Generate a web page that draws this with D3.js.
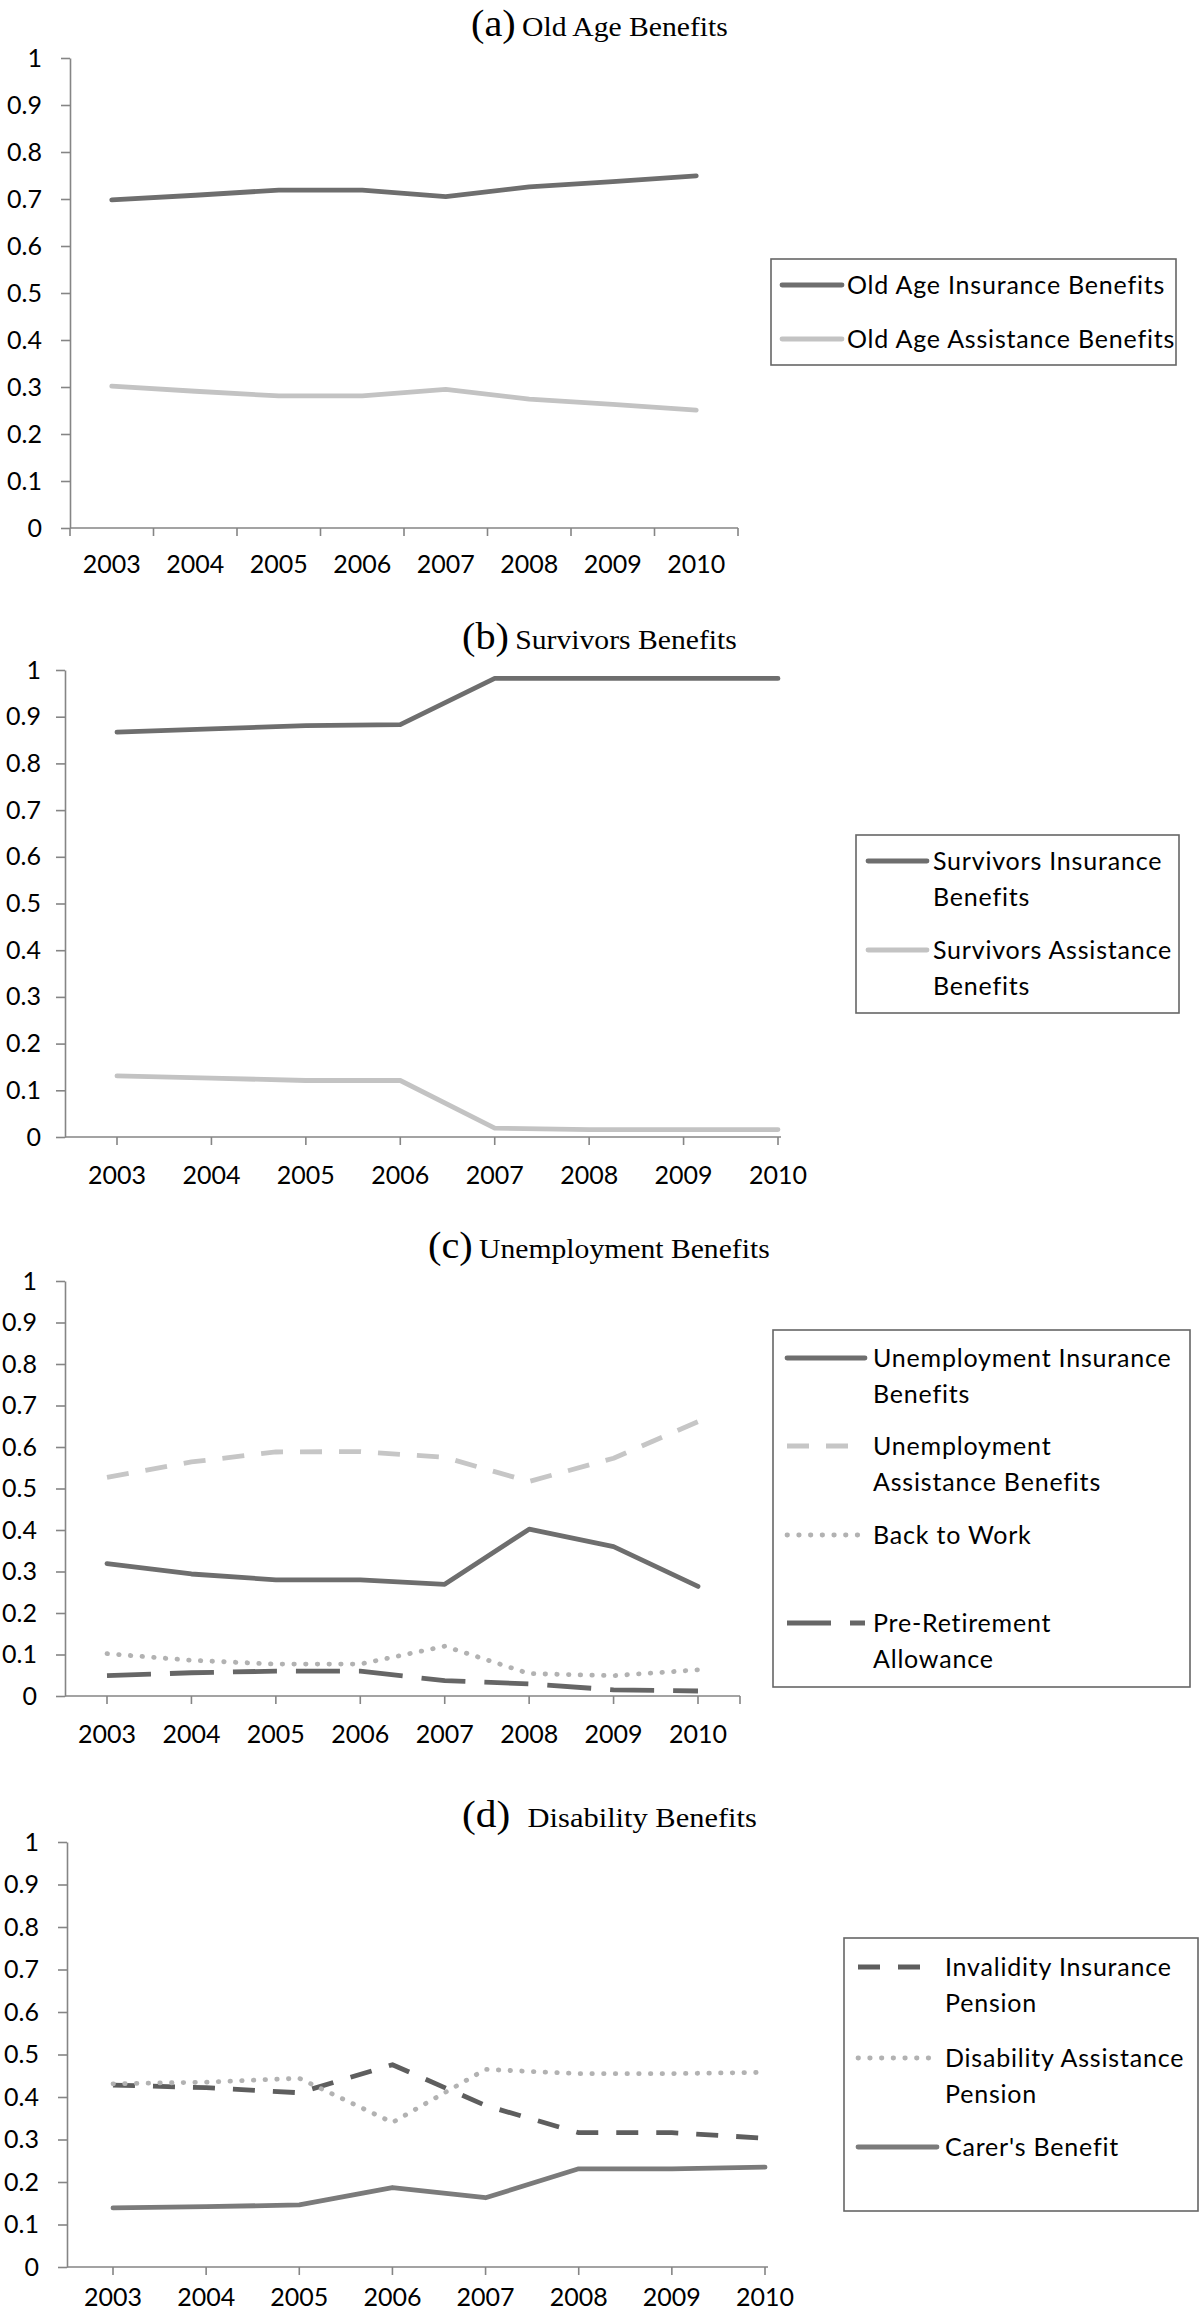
<!DOCTYPE html>
<html>
<head>
<meta charset="utf-8">
<script src="https://cdn.jsdelivr.net/npm/d3@7"></script>
<style>
  html, body { margin: 0; padding: 0; background: #fff; }
  svg { display: block; }
</style>
</head>
<body>
<script>
// ---------------- DATA ----------------
const years = ["2003", "2004", "2005", "2006", "2007", "2008", "2009", "2010"];
const yTicks = [0, 0.1, 0.2, 0.3, 0.4, 0.5, 0.6, 0.7, 0.8, 0.9, 1];

// (a) Old Age Benefits
const oldAgeInsurance  = [0.698, 0.708, 0.719, 0.719, 0.705, 0.726, 0.737, 0.749];
const oldAgeAssistance = [0.302, 0.291, 0.281, 0.281, 0.295, 0.274, 0.263, 0.251];

// (b) Survivors Benefits
const survivorsInsurance  = [0.867, 0.874, 0.881, 0.883, 0.982, 0.982, 0.982, 0.982];
const survivorsAssistance = [0.131, 0.126, 0.121, 0.121, 0.019, 0.016, 0.016, 0.016];

// (c) Unemployment Benefits
const unempInsurance  = [0.319, 0.294, 0.280, 0.280, 0.269, 0.402, 0.360, 0.264];
const unempAssistance = [0.527, 0.564, 0.588, 0.589, 0.575, 0.517, 0.573, 0.661];
const backToWork      = [0.102, 0.086, 0.077, 0.077, 0.120, 0.054, 0.049, 0.063];
const preRetirement   = [0.049, 0.056, 0.060, 0.060, 0.037, 0.029, 0.015, 0.012];

// (d) Disability Benefits
const invalidityInsurance  = [0.428, 0.422, 0.410, 0.476, 0.380, 0.316, 0.316, 0.303];
const disabilityAssistance = [0.431, 0.435, 0.444, 0.340, 0.465, 0.455, 0.455, 0.458];
const carersBenefit        = [0.139, 0.142, 0.146, 0.187, 0.163, 0.231, 0.231, 0.235];

// Titles and legend labels
const panelLetters = ["(a)", "(b)", "(c)", "(d)"];
const panelTitles  = ["Old Age Benefits", "Survivors Benefits", "Unemployment Benefits", "Disability Benefits"];
const legendA = [["Old Age Insurance Benefits"], ["Old Age Assistance Benefits"]];
const legendB = [["Survivors Insurance", "Benefits"], ["Survivors Assistance", "Benefits"]];
const legendC = [["Unemployment Insurance", "Benefits"], ["Unemployment", "Assistance Benefits"], ["Back to Work"], ["Pre-Retirement", "Allowance"]];
const legendD = [["Invalidity Insurance", "Pension"], ["Disability Assistance", "Pension"], ["Carer's Benefit"]];

// ---------------- STYLES ----------------
const DARK = "#6e6e6e", LIGHT = "#c3c3c3";
const STYLE_SOLID_DARK  = { color: DARK, dash: null, cap: "round" };
const STYLE_SOLID_LIGHT = { color: LIGHT, dash: null, cap: "round" };
const STYLE_DASH_LIGHT  = { color: "#c6c6c6", dash: "22,17", cap: "butt" };
const STYLE_DOT_LIGHT   = { color: "#b2b2b2", dash: "0.5,11.2", cap: "round" };
const STYLE_LONGDASH_DARK = { color: "#666666", dash: "44,19", cap: "butt" };
const STYLE_DASH_DARK   = { color: "#5e5e5e", dash: "22,18", cap: "butt" };
const STYLE_SOLID_MED   = { color: "#7b7b7b", dash: null, cap: "round" };

const LINE_W = 4.8;
const TICK_FONT = "Lato, 'Open Sans', sans-serif";
const TITLE_FONT = "'Liberation Serif', 'Times New Roman', serif";

// ---------------- LAYOUT ----------------
const panels = [
  {
    letter: panelLetters[0], title: panelTitles[0], titleX: 471, titleY: 36, titleW: 257, gap: 6,
    xMode: "band", xRange: [70, 738], axisSpan: [70, 738], endTick: false,
    yAxisX: 70, yRange: [528, 58], xLabelY: 573, yLabelRight: 42,
    series: [
      { values: oldAgeInsurance, style: STYLE_SOLID_DARK },
      { values: oldAgeAssistance, style: STYLE_SOLID_LIGHT }
    ],
    legend: { x: 771, y: 259, w: 405, h: 106, sx0: 782, sx1: 842, textX: 847,
      rows: [{ y: 285 }, { y: 339 }], labels: legendA }
  },
  {
    letter: panelLetters[1], title: panelTitles[1], titleX: 462, titleY: 649, titleW: 275, gap: 6,
    xMode: "point", xRange: [117, 778], axisSpan: [65, 781], endTick: false,
    yAxisX: 65, yRange: [1137, 670], xLabelY: 1184, yLabelRight: 41,
    series: [
      { values: survivorsInsurance, style: STYLE_SOLID_DARK },
      { values: survivorsAssistance, style: STYLE_SOLID_LIGHT }
    ],
    legend: { x: 856, y: 835, w: 323, h: 178, sx0: 868, sx1: 927, textX: 933,
      rows: [{ y: 861 }, { y: 950 }], labels: legendB }
  },
  {
    letter: panelLetters[2], title: panelTitles[2], titleX: 428, titleY: 1258, titleW: 342, gap: 6,
    xMode: "point", xRange: [107, 698], axisSpan: [65, 740], endTick: true,
    yAxisX: 65, yRange: [1696, 1281], xLabelY: 1743, yLabelRight: 37,
    series: [
      { values: unempInsurance, style: STYLE_SOLID_DARK },
      { values: unempAssistance, style: STYLE_DASH_LIGHT },
      { values: backToWork, style: STYLE_DOT_LIGHT },
      { values: preRetirement, style: STYLE_LONGDASH_DARK }
    ],
    legend: { x: 773, y: 1330, w: 417, h: 357, sx0: 787, sx1: 865, textX: 873,
      rows: [{ y: 1358 }, { y: 1446 }, { y: 1535 }, { y: 1623 }], labels: legendC }
  },
  {
    letter: panelLetters[3], title: panelTitles[3], titleX: 462, titleY: 1827, titleW: 295, gap: 16,
    xMode: "point", xRange: [113, 765], axisSpan: [67, 768], endTick: false,
    yAxisX: 67, yRange: [2267, 1842], xLabelY: 2306, yLabelRight: 39,
    series: [
      { values: invalidityInsurance, style: STYLE_DASH_DARK },
      { values: disabilityAssistance, style: STYLE_DOT_LIGHT },
      { values: carersBenefit, style: STYLE_SOLID_MED }
    ],
    legend: { x: 844, y: 1938, w: 354, h: 273, sx0: 858, sx1: 937, textX: 945,
      rows: [{ y: 1967 }, { y: 2058 }, { y: 2147 }], labels: legendD }
  }
];

// ---------------- DRAW ----------------
const svg = d3.select("body").append("svg")
  .attr("width", 1200).attr("height", 2315)
  .attr("viewBox", "0 0 1200 2315");

const AXIS_COLOR = "#858585";
const TEXT_COLOR = "#000000";

panels.forEach(p => {
  const g = svg.append("g");

  // scales
  let x, xc;
  if (p.xMode === "band") {
    x = d3.scaleBand().domain(years).range(p.xRange).paddingInner(0).paddingOuter(0);
    xc = d => x(d) + x.bandwidth() / 2;
  } else {
    x = d3.scalePoint().domain(years).range(p.xRange);
    xc = d => x(d);
  }
  const y = d3.scaleLinear().domain([0, 1]).range(p.yRange);

  // Y axis
  const yAxis = d3.axisLeft(y).tickValues(yTicks).tickFormat(d3.format("")).tickSize(9).tickSizeOuter(0)
    .tickPadding(p.yAxisX - p.yLabelRight - 9);
  const yG = g.append("g").attr("transform", `translate(${p.yAxisX},0)`).call(yAxis);
  yG.select(".domain").attr("stroke", AXIS_COLOR).attr("stroke-width", 1.6);
  yG.selectAll(".tick line").attr("stroke", AXIS_COLOR).attr("stroke-width", 1.6);
  yG.selectAll(".tick text").attr("fill", TEXT_COLOR)
    .style("font-family", TICK_FONT).style("font-size", "25px");

  // X axis
  const xAxisY = y(0);
  const xG = g.append("g").attr("transform", `translate(0,${xAxisY})`);
  xG.append("line").attr("x1", p.axisSpan[0]).attr("x2", p.axisSpan[1])
    .attr("y1", 0).attr("y2", 0).attr("stroke", AXIS_COLOR).attr("stroke-width", 1.6);

  let tickXs;
  if (p.xMode === "band") {
    tickXs = years.map(d => x(d)).concat([x(years[years.length - 1]) + x.bandwidth()]);
  } else {
    tickXs = years.map(d => x(d));
    if (p.endTick) tickXs = tickXs.concat([p.axisSpan[1]]);
  }
  xG.selectAll("line.tk").data(tickXs).join("line").attr("class", "tk")
    .attr("x1", d => d).attr("x2", d => d).attr("y1", 0).attr("y2", 8)
    .attr("stroke", AXIS_COLOR).attr("stroke-width", 1.6);

  g.append("g").selectAll("text").data(years).join("text")
    .attr("x", d => xc(d)).attr("y", p.xLabelY)
    .attr("text-anchor", "middle")
    .attr("fill", TEXT_COLOR)
    .style("font-family", TICK_FONT).style("font-size", "25px")
    .text(d => d);

  // Lines
  const line = d3.line().x((v, i) => xc(years[i])).y(v => y(v));
  p.series.forEach(s => {
    g.append("path").datum(s.values)
      .attr("d", line)
      .attr("fill", "none")
      .attr("stroke", s.style.color)
      .attr("stroke-width", LINE_W)
      .attr("stroke-linejoin", "round")
      .attr("stroke-linecap", s.style.cap)
      .attr("stroke-dasharray", s.style.dash);
  });

  // Title (serif text, slightly stretched horizontally as in the reference)
  const tg = g.append("g");
  const t = tg.append("text").attr("x", 0).attr("y", 0)
    .attr("fill", "#000").style("font-family", TITLE_FONT);
  t.append("tspan").style("font-size", "38px").text(p.letter);
  t.append("tspan").attr("dx", p.gap).style("font-size", "28px").text(p.title);
  const natural = t.node().getBBox().width;
  const k = p.titleW / natural;
  tg.attr("transform", `translate(${p.titleX},${p.titleY}) scale(${k},1)`);

  // Legend
  const L = p.legend;
  const lg = g.append("g");
  lg.append("rect").attr("x", L.x).attr("y", L.y).attr("width", L.w).attr("height", L.h)
    .attr("fill", "#fff").attr("stroke", "#666").attr("stroke-width", 1.6);
  L.rows.forEach((r, i) => {
    const st = p.series[i].style;
    lg.append("line").attr("x1", L.sx0).attr("x2", L.sx1).attr("y1", r.y).attr("y2", r.y)
      .attr("stroke", st.color).attr("stroke-width", LINE_W)
      .attr("stroke-linecap", st.cap).attr("stroke-dasharray", st.dash);
    const tx = lg.append("text").attr("x", L.textX).attr("y", r.y + 9)
      .attr("fill", TEXT_COLOR)
      .style("font-family", TICK_FONT).style("font-size", "25px").style("letter-spacing", "0.8px");
    L.labels[i].forEach((ln, j) => {
      tx.append("tspan").attr("x", L.textX).attr("dy", j === 0 ? 0 : 36).text(ln);
    });
  });
});
</script>
</body>
</html>
